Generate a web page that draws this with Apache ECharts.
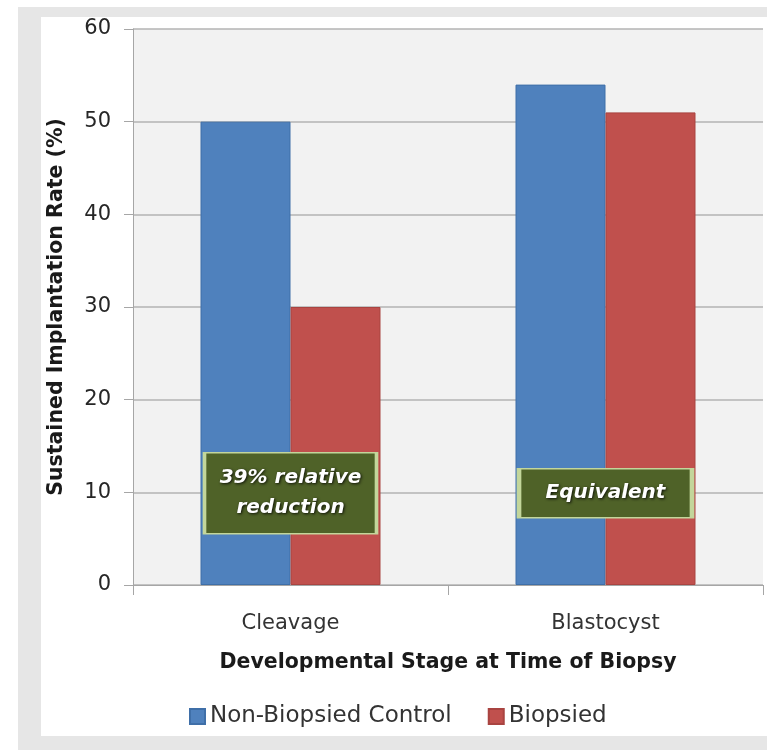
<!DOCTYPE html>
<html>
<head>
<meta charset="utf-8">
<script src="https://cdn.jsdelivr.net/npm/echarts@6/dist/echarts.min.js"></script>
<style>
  html, body { margin: 0; padding: 0; background: #ffffff; }
  #chart { width: 767px; height: 750px; }
</style>
</head>
<body>
<div id="chart"></div>
<script>
// Biopsy stage vs sustained implantation rate
const categories = ['Cleavage', 'Blastocyst'];
const seriesNames = ['Non-Biopsied Control', 'Biopsied'];
const controlValues = [50, 54];
const biopsiedValues = [30, 51];
const yTicks = { min: 0, max: 60, interval: 10 };

// Callout boxes centred over each category group
const calloutCategories = ['Cleavage', 'Blastocyst'];
const calloutLevels = [9.9, 9.9];
const calloutTexts = ['39% relative\nreduction', 'Equivalent'];

const FONT = 'DejaVu Sans';
const BLUE = '#4f81bd';
const RED = '#c0504d';

const chart = echarts.init(document.getElementById('chart'), null, { renderer: 'canvas' });

const calloutSizes = [[172, 81], [173, 49]];
const calloutData = calloutCategories.map((cat, i) => ({
  value: [cat, calloutLevels[i]],
  symbolSize: calloutSizes[i],
  label: { formatter: calloutTexts[i] }
}));

const option = {
  backgroundColor: '#ffffff',
  animation: false,
  graphic: [
    { type: 'rect', z: -10, silent: true, shape: { x: 18, y: 7, width: 760, height: 750 }, style: { fill: '#e6e6e6' } },
    { type: 'rect', z: -9, silent: true, shape: { x: 41, y: 17, width: 730, height: 719 }, style: { fill: '#ffffff' } }
  ],
  grid: {
    left: 133, top: 29, right: 4, bottom: 165,
    show: true, backgroundColor: '#f2f2f2', borderWidth: 0
  },
  legend: {
    data: seriesNames,
    bottom: 17,
    left: 184,
    itemWidth: 15,
    itemHeight: 15,
    itemGap: 36,
    icon: 'rect',
    textStyle: { fontFamily: FONT, fontSize: 23, color: '#333333' }
  },
  xAxis: {
    type: 'category',
    data: categories,
    name: 'Developmental Stage at Time of Biopsy',
    nameLocation: 'middle',
    nameGap: 67,
    nameTextStyle: { fontFamily: FONT, fontWeight: 'bold', fontSize: 20.5, color: '#1a1a1a' },
    axisLine: { lineStyle: { color: '#a6a6a6', width: 1 } },
    axisTick: { show: true, length: 10, lineStyle: { color: '#a6a6a6' } },
    axisLabel: { fontFamily: FONT, fontSize: 21, color: '#333333', margin: 28 }
  },
  yAxis: {
    type: 'value',
    min: yTicks.min, max: yTicks.max, interval: yTicks.interval,
    name: 'Sustained Implantation Rate (%)',
    nameLocation: 'middle',
    nameGap: 66,
    nameTextStyle: { fontFamily: FONT, fontWeight: 'bold', fontSize: 20.5, color: '#1a1a1a' },
    axisLine: { show: true, lineStyle: { color: '#a6a6a6', width: 1 } },
    axisTick: { show: true, length: 9, lineStyle: { color: '#a6a6a6' } },
    axisLabel: { fontFamily: FONT, fontSize: 21, color: '#262626', margin: 22 },
    splitLine: { show: true, lineStyle: { color: '#b3b3b3', width: 1.5 } }
  },
  series: [
    {
      name: seriesNames[0],
      type: 'bar',
      data: controlValues,
      barWidth: 90,
      barGap: '0%',
      itemStyle: { color: BLUE, borderColor: '#3f6fa8', borderWidth: 1 }
    },
    {
      name: seriesNames[1],
      type: 'bar',
      data: biopsiedValues,
      barWidth: 90,
      barGap: '0%',
      itemStyle: { color: RED, borderColor: '#a94441', borderWidth: 1 }
    },
    {
      name: 'callouts',
      type: 'scatter',
      z: 10,
      symbol: 'rect',
      data: calloutData,
      itemStyle: { color: '#4f6228', borderColor: '#c3d69b', borderWidth: 2.5, opacity: 1 },
      label: {
        show: true,
        position: 'inside',
        color: '#ffffff',
        fontFamily: FONT,
        fontStyle: 'italic',
        fontWeight: 'bold',
        fontSize: 20,
        lineHeight: 30,
        align: 'center',
        textShadowColor: 'rgba(0,0,0,0.85)',
        textShadowBlur: 3,
        textShadowOffsetX: 1,
        textShadowOffsetY: 1
      },
      emphasis: { disabled: true }
    }
  ]
};

chart.setOption(option);
</script>
</body>
</html>
